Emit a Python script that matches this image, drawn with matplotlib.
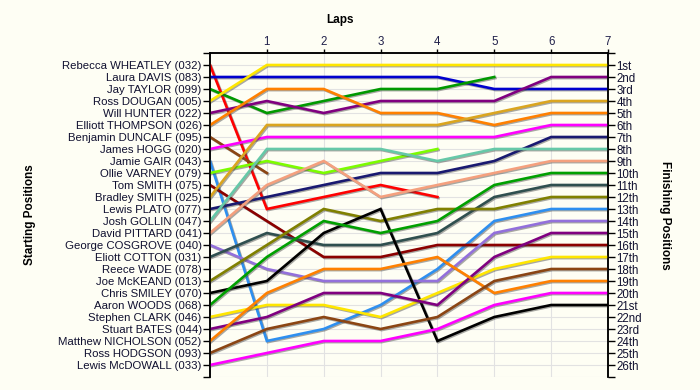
import numpy as np
import matplotlib
matplotlib.use("Agg")
import matplotlib.pyplot as plt
import matplotlib.patheffects as pe

plt.rcParams['font.family'] = ['Liberation Sans', 'DejaVu Sans']

riders = [
    "Rebecca WHEATLEY (032)", "Laura DAVIS (083)", "Jay TAYLOR (099)", "Ross DOUGAN (005)",
    "Will HUNTER (022)", "Elliott THOMPSON (026)", "Benjamin DUNCALF (095)", "James HOGG (020)",
    "Jamie GAIR (043)", "Ollie VARNEY (079)", "Tom SMITH (075)", "Bradley SMITH (025)",
    "Lewis PLATO (077)", "Josh GOLLIN (047)", "David PITTARD (041)", "George COSGROVE (040)",
    "Eliott COTTON (031)", "Reece WADE (078)", "Joe McKEAND (013)", "Chris SMILEY (070)",
    "Aaron WOODS (068)", "Stephen CLARK (046)", "Stuart BATES (044)", "Matthew NICHOLSON (052)",
    "Ross HODGSON (093)", "Lewis McDOWALL (033)",
]

laps = [0, 1, 2, 3, 4, 5, 6, 7]

# positions at each lap (None = no longer racing)
positions = [
    [1, 13, 12, 11, 12, None, None, None],
    [2, 2, 2, 2, 2, 3, 3, 3],
    [3, 5, 4, 3, 3, 2, None, None],
    [4, 1, 1, 1, 1, 1, 1, 1],
    [5, 4, 5, 4, 4, 4, 2, 2],
    [6, 3, 3, 5, 5, 6, 5, 5],
    [7, 10, None, None, None, None, None, None],
    [8, 7, 7, 7, 7, 7, 6, 6],
    [9, 24, 23, 21, 18, 14, 13, 13],
    [10, 9, 10, 9, 8, None, None, None],
    [11, 14, 17, 17, 16, 16, 16, 16],
    [12, 6, 6, 6, 6, 5, 4, 4],
    [13, 12, 11, 10, 10, 9, 7, 7],
    [14, 8, 8, 8, 9, 8, 8, 8],
    [15, 11, 9, 12, 11, 10, 9, 9],
    [16, 18, 19, 19, 19, 15, 14, 14],
    [17, 15, 16, 16, 15, 12, 11, 11],
    [18, None, None, None, None, None, None, None],
    [19, 16, 13, 14, 13, 13, 12, 12],
    [20, 19, 15, 13, 24, 22, 21, 21],
    [21, 17, 14, 15, 14, 11, 10, 10],
    [22, 21, 21, 22, 20, 18, 17, 17],
    [23, 22, 20, 20, 21, 17, 15, 15],
    [24, 20, 18, 18, 17, 20, 19, 19],
    [25, 23, 22, 23, 22, 19, 18, 18],
    [26, 25, 24, 24, 23, 21, 20, 20],
]

colors = [
    "#FF0000", "#0000CD", "#009900", "#FFE600", "#800080", "#FF8000", "#8B4513", "#FF00FF",
    "#2E8FEF", "#7CFC00", "#8B0000", "#DAA520", "#191970", "#66C8A8", "#F4A07E", "#9370DB",
    "#2F4F4F", "#A0A0A0", "#808000", "#000000", "#00A000", "#FFE600", "#800080", "#FF8000",
    "#8B4513", "#FF00FF",
]

finish_labels = ["1st", "2nd", "3rd"] + [f"{i}th" for i in range(4, 21)] + ["21st", "22nd", "23rd", "24th", "25th", "26th"]

bg = "#FEFEF4"
fig = plt.figure(figsize=(7, 3.9), dpi=100, facecolor=bg)
ax = fig.add_axes([210/700, 1-377/390, (608-210)/700, (377-53)/390])
ax.set_facecolor(bg)

for pos, col in zip(positions, colors):
    y = np.array([np.nan if v is None else v for v in pos], dtype=float)
    ax.plot(laps, y, color=col, lw=1.9, solid_joinstyle='miter', zorder=3,
            path_effects=[pe.SimpleLineShadow(offset=(0.8, -0.8), shadow_color='#404040', alpha=0.45),
                          pe.Normal()])

n = len(riders)
ax.set_xlim(0, 7)
ax.set_ylim(n + 1, 0)

# grid
for yy in range(0, n + 2):
    ax.axhline(yy, color='#e2e2e2', lw=0.8, zorder=1)
for xx in laps[1:]:
    ax.axvline(xx, color='#e2e2e2', lw=0.8, zorder=1)

ax.xaxis.tick_top()
ax.set_xticks(laps[1:])
ax.set_xticklabels([str(l) for l in laps[1:]], fontsize=8.3, color='#20204a')
ax.tick_params(axis='x', length=3, width=1, pad=0.5)

ax.set_yticks(range(0, n + 2))
ax.set_yticklabels([""] + riders + [""], fontsize=8.2, color='#101030')
ax.tick_params(axis='y', length=5, width=1, pad=1, labelleft=True, labelright=False, left=True)

ax2 = ax.twinx()
ax2.set_ylim(n + 1, 0)
ax2.set_yticks(range(0, n + 2))
ax2.set_yticklabels([""] + finish_labels + [""], fontsize=8.3, color='#101030')
ax2.tick_params(axis='y', length=5, width=1, pad=1)

for a in (ax, ax2):
    a.spines['bottom'].set_visible(False)
    for s in ('left', 'right', 'top'):
        a.spines[s].set_linewidth(1.1)

fig.text(340/700, 1-20/390, "Laps", ha='center', va='center', fontsize=8.5, fontweight='bold')
fig.text(30/700, 1-215/390, "Starting Positions", ha='center', va='center', rotation=90,
         fontsize=8.5, fontweight='bold')
fig.text(665/700, 1-215/390, "Finishing Positions", ha='center', va='center', rotation=-90,
         fontsize=8.5, fontweight='bold')

fig.savefig("out.png", dpi=100, facecolor=bg)
